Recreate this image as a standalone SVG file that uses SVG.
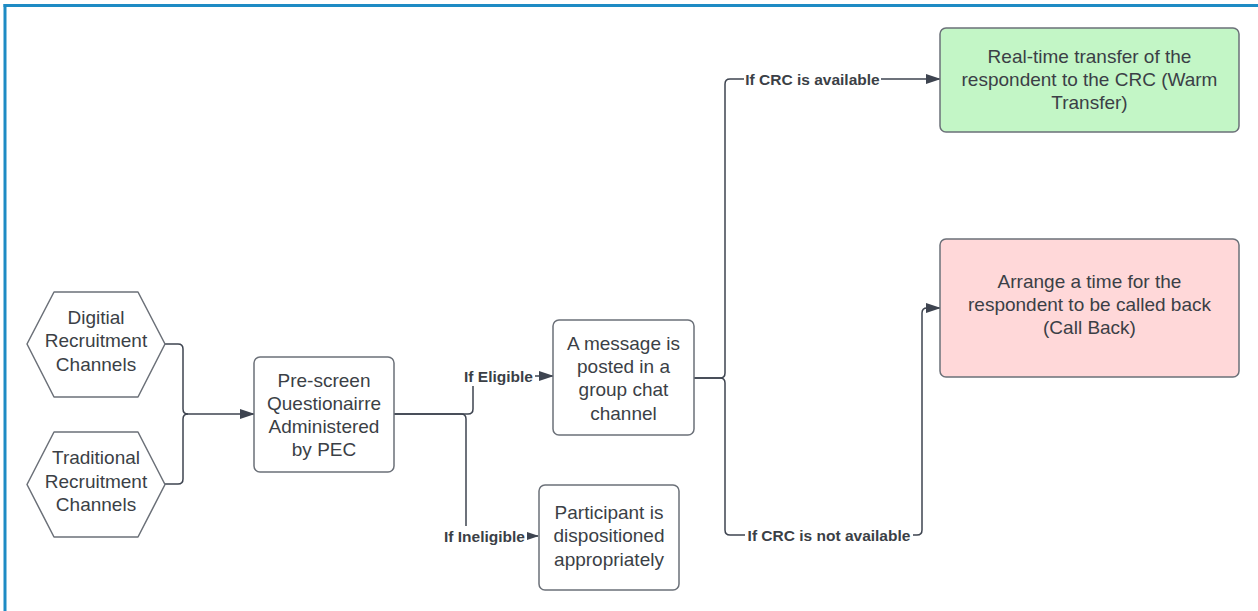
<svg xmlns="http://www.w3.org/2000/svg" width="1258" height="611" viewBox="0 0 1258 611">
<defs>
<style>
.box{fill:#ffffff;stroke:#6b7078;stroke-width:1.5}
.hex{fill:#ffffff;stroke:#6b7078;stroke-width:1.5;stroke-linejoin:round}
.t{font-family:"Liberation Sans",Arial,sans-serif;font-size:19px;fill:#3b3f46;text-anchor:middle}
.lbl{font-family:"Liberation Sans",Arial,sans-serif;font-size:15.5px;font-weight:bold;fill:#3b3f46;text-anchor:middle}
.ln{fill:none;stroke:#3e4450;stroke-width:1.5}
.bg{fill:#ffffff}
</style>
<marker id="arr" markerUnits="userSpaceOnUse" markerWidth="15" markerHeight="10" refX="14" refY="5" orient="auto">
<path d="M0,0 L15,5 L0,10 Z" fill="#3e4450"/>
</marker>
</defs>
<rect width="1258" height="611" fill="#ffffff"/>
<g id="frame">
<line x1="3.5" y1="5.5" x2="1258" y2="5.5" stroke="#1e8bc4" stroke-width="3"/>
<line x1="5" y1="4" x2="5" y2="611" stroke="#1e8bc4" stroke-width="3"/>
</g>
<g id="connectors">
<path class="ln" d="M165,344 H178 Q183,344 183,349 V409 Q183,414 188,414 H254" marker-end="url(#arr)"/>
<path class="ln" d="M165,484 H178 Q183,484 183,479 V419 Q183,414 188,414"/>
<path class="ln" d="M394,414 H468 Q473,414 473,409 V381 Q473,376 478,376 H553" marker-end="url(#arr)"/>
<path class="ln" d="M394,414 H461 Q466,414 466,419 V531 Q466,536 471,536 H538" marker-end="url(#arr)"/>
<path class="ln" d="M694,378 H720 Q725,378 725,373 V84 Q725,79 730,79 H940" marker-end="url(#arr)"/>
<path class="ln" d="M694,378 H720 Q725,378 725,383 V530 Q725,535 730,535 H917 Q922,535 922,530 V313 Q922,308 927,308 H940" marker-end="url(#arr)"/>
<g id="label-eligible">
<rect class="bg" x="462" y="366" width="73" height="20"/>
<text class="lbl" x="498.5" y="381.5">If Eligible</text>
</g>
<g id="label-ineligible">
<rect class="bg" x="442" y="526" width="85" height="20"/>
<text class="lbl" x="484.5" y="541.5">If Ineligible</text>
</g>
<g id="label-available">
<rect class="bg" x="744" y="69" width="137" height="20"/>
<text class="lbl" x="812.5" y="84.5">If CRC is available</text>
</g>
<g id="label-not-available">
<rect class="bg" x="745" y="525" width="168" height="20"/>
<text class="lbl" x="829" y="540.5">If CRC is not available</text>
</g>
</g>
<g id="digital">
<polygon class="hex" points="27,344 54,292 138,292 165,344 138,397 54,397"/>
<text class="t" x="96" y="323.5">Digitial</text>
<text class="t" x="96" y="347">Recruitment</text>
<text class="t" x="96" y="370.5">Channels</text>
</g>
<g id="traditional">
<polygon class="hex" points="27,484.5 54,432 138,432 165,484.5 138,537 54,537"/>
<text class="t" x="96" y="464">Traditional</text>
<text class="t" x="96" y="487.5">Recruitment</text>
<text class="t" x="96" y="511">Channels</text>
</g>
<g id="prescreen">
<rect class="box" x="254" y="357" width="140" height="115" rx="6"/>
<text class="t" x="324" y="386.5">Pre-screen</text>
<text class="t" x="324" y="409.5">Questionairre</text>
<text class="t" x="324" y="432.5">Administered</text>
<text class="t" x="324" y="455.5">by PEC</text>
</g>
<g id="message">
<rect class="box" x="553" y="320" width="141" height="115" rx="6"/>
<text class="t" x="623.5" y="349.5">A message is</text>
<text class="t" x="623.5" y="372.5">posted in a</text>
<text class="t" x="623.5" y="396">group chat</text>
<text class="t" x="623.5" y="419.5">channel</text>
</g>
<g id="participant">
<rect class="box" x="539" y="485" width="140" height="105" rx="6"/>
<text class="t" x="609" y="518.5">Participant is</text>
<text class="t" x="609" y="542">dispositioned</text>
<text class="t" x="609" y="565.5">appropriately</text>
</g>
<g id="warm">
<rect class="box" x="940" y="28" width="299" height="104" rx="6" style="fill:#c3f6c6"/>
<text class="t" x="1089.5" y="62.5">Real-time transfer of the</text>
<text class="t" x="1089.5" y="85.5">respondent to the CRC (Warm</text>
<text class="t" x="1089.5" y="108.5">Transfer)</text>
</g>
<g id="callback">
<rect class="box" x="940" y="239" width="299" height="138" rx="6" style="fill:#ffd8d9"/>
<text class="t" x="1089.5" y="287.5">Arrange a time for the</text>
<text class="t" x="1089.5" y="310.5">respondent to be called back</text>
<text class="t" x="1089.5" y="333.5">(Call Back)</text>
</g>
</svg>
